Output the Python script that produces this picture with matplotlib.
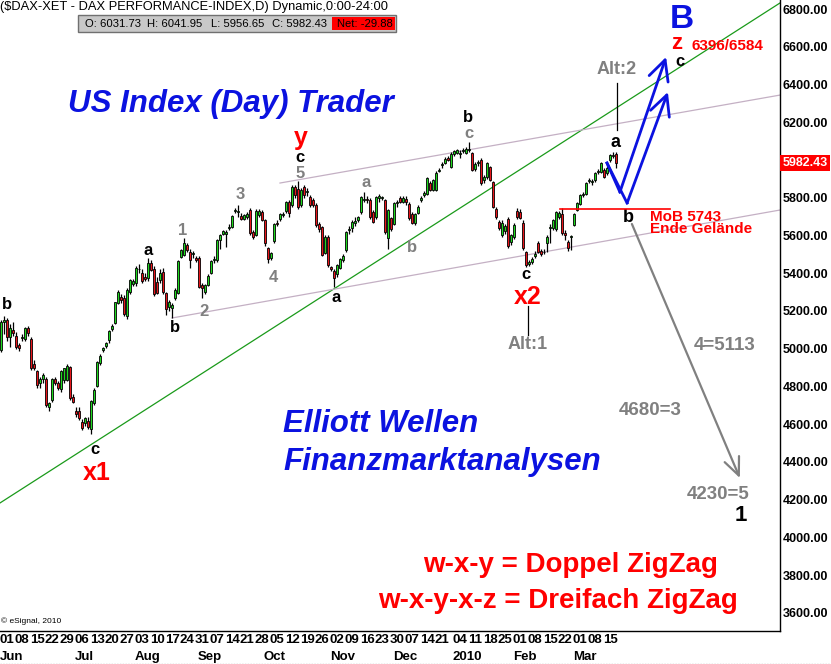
import matplotlib
matplotlib.use("Agg")
import matplotlib.pyplot as plt
import matplotlib.transforms as mtransforms
from matplotlib.lines import Line2D
from matplotlib.patches import Rectangle
import numpy as np

plt.rcParams["font.family"] = ["Liberation Sans", "DejaVu Sans"]

# daily OHLC, DAX 01.06.2009 - 19.03.2010
opens = [
    4995, 5140, 5150, 5060, 5100, 5065, 5020, 5055, 5050, 5110,
    5050, 4920, 4880, 4820, 4840, 4840, 4690, 4730, 4840, 4818,
    4785, 4834, 4836, 4903, 4744, 4670, 4670, 4612, 4607, 4617,
    4575, 4712, 4803, 4925, 4993, 5015, 5046, 5104, 5136, 5242,
    5274, 5269, 5174, 5300, 5345, 5348, 5420, 5401, 5380, 5375,
    5454, 5422, 5354, 5364, 5407, 5295, 5221, 5216, 5269, 5295,
    5486, 5497, 5550, 5513, 5500, 5481, 5481, 5338, 5301, 5338,
    5401, 5470, 5470, 5576, 5608, 5610, 5640, 5645, 5730, 5725,
    5703, 5690, 5700, 5735, 5618, 5603, 5710, 5724, 5682, 5534,
    5481, 5571, 5665, 5687, 5710, 5730, 5778, 5762, 5857, 5846,
    5760, 5857, 5830, 5804, 5790, 5762, 5660, 5645, 5507, 5592,
    5433, 5412, 5396, 5430, 5470, 5523, 5630, 5640, 5665, 5680,
    5724, 5790, 5795, 5788, 5724, 5698, 5800, 5800, 5788, 5587,
    5693, 5661, 5770, 5800, 5780, 5795, 5767, 5714, 5666, 5719,
    5790, 5815, 5820, 5878, 5841, 5841, 5940, 5975, 5984, 6010,
    5963, 6030, 6037, 6030, 6050, 6037, 6055, 6037, 5950, 5985,
    6000, 5895, 5910, 5963, 5883, 5740, 5672, 5603, 5625, 5687,
    5566, 5592, 5730, 5725, 5666, 5513, 5450, 5460, 5490, 5560,
    5520, 5510, 5560, 5640, 5640, 5634, 5700, 5714, 5615, 5566,
    5590, 5656, 5735, 5767, 5815, 5820, 5890, 5885, 5894, 5935,
    5936, 5947, 5930, 6000, 6020, 6031.73,
]
highs = [
    5150, 5175, 5165, 5130, 5140, 5090, 5030, 5080, 5115, 5120,
    5060, 4940, 4890, 4850, 4870, 4850, 4720, 4845, 4850, 4830,
    4885, 4900, 4920, 4910, 4760, 4690, 4690, 4630, 4640, 4640,
    4730, 4790, 4935, 4970, 5010, 5035, 5100, 5130, 5250, 5310,
    5290, 5285, 5320, 5370, 5370, 5440, 5450, 5420, 5400, 5481,
    5470, 5440, 5380, 5420, 5430, 5300, 5260, 5240, 5320, 5470,
    5530, 5585, 5560, 5530, 5520, 5490, 5490, 5350, 5345, 5395,
    5470, 5490, 5580, 5610, 5630, 5630, 5660, 5710, 5745, 5760,
    5720, 5715, 5725, 5745, 5630, 5740, 5740, 5735, 5690, 5540,
    5515, 5665, 5680, 5720, 5725, 5785, 5790, 5865, 5870, 5888,
    5850, 5870, 5850, 5815, 5800, 5770, 5670, 5650, 5600, 5600,
    5440, 5420, 5450, 5480, 5500, 5625, 5650, 5680, 5700, 5705,
    5810, 5830, 5810, 5800, 5735, 5810, 5820, 5810, 5795, 5740,
    5700, 5780, 5790, 5810, 5810, 5810, 5775, 5725, 5720, 5760,
    5810, 5835, 5910, 5890, 5900, 5940, 5960, 5990, 6015, 6020,
    6040, 6055, 6060, 6055, 6065, 6070, 6094, 6045, 5990, 6000,
    6010, 5920, 5990, 5970, 5890, 5750, 5680, 5680, 5660, 5700,
    5610, 5665, 5745, 5740, 5680, 5520, 5470, 5485, 5520, 5570,
    5530, 5530, 5600, 5660, 5690, 5730, 5730, 5745, 5630, 5575,
    5600, 5720, 5775, 5820, 5830, 5882, 5905, 5900, 5935, 5950,
    5990, 5960, 5970, 6030, 6040, 6041.95,
]
lows = [
    4985, 5080, 5040, 5010, 5070, 5000, 4990, 5040, 5040, 5070,
    4890, 4890, 4790, 4790, 4820, 4690, 4670, 4720, 4810, 4780,
    4770, 4820, 4830, 4730, 4710, 4640, 4620, 4570, 4590, 4575,
    4550, 4700, 4795, 4915, 4985, 5005, 5030, 5095, 5130, 5235,
    5240, 5175, 5160, 5290, 5330, 5330, 5400, 5350, 5360, 5360,
    5410, 5280, 5290, 5350, 5290, 5179, 5200, 5163, 5260, 5290,
    5480, 5490, 5515, 5430, 5480, 5460, 5320, 5269, 5290, 5330,
    5395, 5455, 5460, 5530, 5600, 5540, 5630, 5640, 5720, 5700,
    5680, 5680, 5690, 5600, 5580, 5595, 5700, 5675, 5545, 5455,
    5470, 5560, 5650, 5675, 5700, 5720, 5700, 5750, 5800, 5740,
    5750, 5800, 5810, 5750, 5750, 5645, 5620, 5490, 5500, 5435,
    5410, 5327, 5380, 5420, 5460, 5515, 5610, 5620, 5650, 5670,
    5715, 5780, 5770, 5690, 5665, 5690, 5780, 5790, 5610, 5528,
    5625, 5655, 5750, 5770, 5770, 5760, 5680, 5660, 5655, 5715,
    5780, 5805, 5815, 5835, 5835, 5835, 5935, 5955, 5980, 5995,
    5955, 6020, 6030, 6010, 6035, 6030, 6040, 5940, 5940, 5970,
    5870, 5880, 5900, 5890, 5745, 5690, 5630, 5590, 5610, 5535,
    5550, 5580, 5690, 5685, 5525, 5433, 5440, 5450, 5480, 5505,
    5490, 5500, 5510, 5560, 5630, 5625, 5690, 5605, 5575, 5520,
    5525, 5650, 5730, 5760, 5805, 5815, 5880, 5870, 5885, 5925,
    5930, 5905, 5920, 5990, 6010, 5956.65,
]
closes = [
    5140, 5150, 5060, 5110, 5085, 5010, 5005, 5060, 5110, 5085,
    4898, 4900, 4808, 4840, 4860, 4702, 4712, 4840, 4818, 4792,
    4882, 4898, 4909, 4739, 4718, 4655, 4633, 4580, 4633, 4585,
    4723, 4781, 4930, 4962, 5004, 5031, 5094, 5120, 5247, 5300,
    5258, 5184, 5311, 5364, 5360, 5428, 5425, 5359, 5370, 5454,
    5417, 5290, 5295, 5401, 5300, 5211, 5248, 5232, 5311, 5465,
    5523, 5560, 5523, 5470, 5505, 5470, 5327, 5322, 5338, 5385,
    5465, 5475, 5576, 5603, 5624, 5620, 5645, 5703, 5735, 5730,
    5687, 5708, 5715, 5613, 5592, 5730, 5730, 5682, 5560, 5475,
    5507, 5661, 5660, 5714, 5715, 5778, 5719, 5857, 5815, 5751,
    5840, 5815, 5835, 5762, 5762, 5656, 5635, 5497, 5592, 5444,
    5422, 5375, 5444, 5475, 5492, 5618, 5635, 5672, 5675, 5700,
    5804, 5795, 5790, 5698, 5672, 5804, 5810, 5805, 5618, 5735,
    5634, 5772, 5775, 5780, 5800, 5775, 5693, 5666, 5714, 5751,
    5800, 5825, 5905, 5841, 5894, 5931, 5947, 5980, 6005, 6000,
    6032, 6050, 6053, 6035, 6055, 6060, 6060, 5947, 5980, 5990,
    5878, 5910, 5984, 5894, 5751, 5698, 5640, 5666, 5650, 5544,
    5603, 5656, 5700, 5695, 5534, 5444, 5460, 5475, 5500, 5513,
    5500, 5515, 5590, 5645, 5682, 5724, 5720, 5613, 5600, 5534,
    5595, 5714, 5772, 5815, 5820, 5878, 5895, 5890, 5931, 5940,
    5984, 5910, 5960, 6027, 6025, 5982.43,
]

week_labels = ["01", "08", "15", "22", "29", "06", "13", "20", "27",
               "03", "10", "17", "24", "31", "07", "14", "21", "28",
               "05", "12", "19", "26", "02", "09", "16", "23", "30",
               "07", "14", "21", "04", "11", "18", "25", "01", "08",
               "15", "22", "01", "08", "15"]
week_index = [0, 5, 10, 15, 20, 25, 30, 35, 40, 45, 50, 55, 60, 65,
              70, 75, 80, 85, 90, 95, 100, 105, 110, 115, 120, 125, 130,
              135, 140, 145, 151, 156, 161, 166, 171, 176, 181, 186,
              191, 196, 201]
month_labels = ["Jun", "Jul", "Aug", "Sep", "Oct", "Nov", "Dec", "2010", "Feb", "Mar"]
month_index = [0, 25, 45, 66, 88, 110, 131, 151, 171, 191]
# 6000 sits under the last-price tag, so it is not labelled
price_ticks = [p for p in range(3600, 6801, 200) if p != 6000]

W, H = 831, 664
GREEN = "#1fd81f"
RED = "#e8161b"
BLUE = "#0b12e0"
GREY = "#808080"
CHANNEL = "#c4b0c4"


def fpx(x, y):
    """pixel (from top-left) -> figure fraction"""
    return x / W, 1 - y / H


def label(ax, i, p, s, color="black", size=12, **kw):
    ax.text(i, p, s, color=color, fontsize=size, fontweight="bold",
            ha="center", va="center", **kw)


fig = plt.figure(figsize=(W / 100, H / 100), dpi=100)
ax = fig.add_axes([0, 33 / H, 780 / W, 631 / H])
ax.set_xlim(-1 / 3, 259.67)
ax.set_ylim(3504.6, 6847.7)

# candles
idx = np.arange(len(closes))
o = np.array(opens)
c = np.array(closes)
up = c >= o
ax.vlines(idx, lows, highs, color="black", lw=0.9, zorder=2)
body = np.maximum(np.abs(c - o), 4)
ax.bar(idx, body, bottom=np.minimum(o, c), width=0.95,
       color=np.where(up, GREEN, RED), edgecolor="black", linewidth=0.6, zorder=3)

# trend / channel lines
ax.plot([-0.33, 259.67], [4183, 6832], color="#1a9a1a", lw=0.9, zorder=1)
ax.plot([93, 259.67], [5878, 6344], color=CHANNEL, lw=0.9, zorder=1)
ax.plot([57, 259.67], [5163, 5735], color=CHANNEL, lw=0.9, zorder=1)
ax.plot([186.3, 223], [5743, 5743], color="red", lw=1.2, zorder=4)

# projected path
ax.plot([202, 206.3], [5984, 5830], color=BLUE, lw=2.0, zorder=5)
ax.plot([202, 208.7], [5984, 5772], color=BLUE, lw=2.0, zorder=5)
arrow_kw = dict(arrowstyle="->,head_length=0.8,head_width=0.4", lw=2.0,
                color=BLUE, mutation_scale=18, shrinkA=0, shrinkB=0)
ax.annotate("", xy=(221.7, 6546), xytext=(206.3, 5830), arrowprops=arrow_kw, zorder=5)
ax.annotate("", xy=(222.3, 6360), xytext=(208.7, 5772), arrowprops=arrow_kw, zorder=5)
ax.annotate("", xy=(246.3, 4315), xytext=(210.3, 5661),
            arrowprops=dict(arrowstyle="->,head_length=0.8,head_width=0.35", lw=1.6,
                            color=GREY, mutation_scale=16, shrinkA=0, shrinkB=0))

ax.plot([205.3, 205.3], [6408, 6159], color="black", lw=0.9)
ax.plot([175.7, 175.7], [5226, 5073], color="black", lw=0.9)

# wave labels
label(ax, 2, 5232, "b")
label(ax, 31.3, 4464, "c")
label(ax, 32, 4340, "x1", color="red", size=18)
label(ax, 49, 5523, "a")
label(ax, 58, 5115, "b")
label(ax, 60.7, 5629, "1", color=GREY)
label(ax, 67.7, 5195, "2", color=GREY)
label(ax, 79.7, 5815, "3", color=GREY)
label(ax, 90.7, 5375, "4", color=GREY)
label(ax, 100, 6115, "y", color="red", size=18)
label(ax, 99.7, 6011, "c")
label(ax, 99.7, 5931, "5", color=GREY)
label(ax, 111.7, 5269, "a")
label(ax, 121.7, 5883, "a", color=GREY)
label(ax, 137, 5534, "b", color=GREY)
label(ax, 155.7, 6223, "b")
label(ax, 156, 6138, "c", color=GREY)
label(ax, 175, 5391, "c")
label(ax, 175.7, 5272, "x2", color="red", size=18)
label(ax, 175.7, 5020, "Alt:1", color=GREY, size=13)
label(ax, 205, 6095, "a", size=13)
label(ax, 205.3, 6477, "Alt:2", color=GREY, size=13)
label(ax, 227, 6745, "B", color=BLUE, size=24)
label(ax, 225.3, 6615, "z", color="red", size=16)
label(ax, 242.3, 6604, "6396/6584", color="red", size=11)
label(ax, 226.3, 6522, "c", size=12)
label(ax, 209, 5693, "b", size=13)
ax.text(216.3, 5700, "MoB 5743", color="red", fontsize=11, fontweight="bold", va="center")
ax.text(216.3, 5632, "Ende Gelände", color="red", fontsize=11, fontweight="bold", va="center")
label(ax, 241.3, 5015, "4=5113", color=GREY, size=13.5)
label(ax, 216.3, 4675, "4680=3", color=GREY, size=13.5)
label(ax, 239, 4230, "4230=5", color=GREY, size=13.5)
label(ax, 246.7, 4115, "1", size=16)

# axes styling
for side in ("top", "left"):
    ax.spines[side].set_visible(False)
ax.spines["right"].set_linewidth(1.0)
ax.spines["bottom"].set_linewidth(1.0)
ax.yaxis.tick_right()
ax.set_yticks(price_ticks)
ax.set_yticklabels([f"{p:.2f}" for p in price_ticks])
ax.tick_params(axis="y", length=0, pad=2, labelsize=9)
for t in ax.get_yticklabels():
    t.set_fontweight("bold")
ax.set_xticks([])

tag = mtransforms.blended_transform_factory(ax.transAxes, ax.transData)
ax.text(1.003, closes[-1], f"{closes[-1]:.2f}", transform=tag, color="white",
        fontsize=9, fontweight="bold", va="center", ha="left",
        bbox=dict(fc="#ff0000", ec="none", pad=1.5))

xt = ax.get_xaxis_transform()
for i, s in zip(week_index, week_labels):
    ax.text(i - 0.4, -0.0143, s, transform=xt, fontsize=9.5, fontweight="bold",
            ha="left", va="center", clip_on=False)
for i, s in zip(month_index, month_labels):
    ax.text(i - 0.4, -0.041, s, transform=xt, fontsize=9.5, fontweight="bold",
            ha="left", va="center", clip_on=False)

# header
fig.text(*fpx(0, 7), "($DAX-XET - DAX PERFORMANCE-INDEX,D) Dynamic,0:00-24:00",
         fontsize=9.3, ha="left", va="center")
fig.patches.append(Rectangle(fpx(78, 32), 318 / W, 17 / H, transform=fig.transFigure,
                             fc="#c8c8c8", ec="#707070", lw=1.0))
fig.patches.append(Rectangle(fpx(332, 30), 63 / W, 13 / H, transform=fig.transFigure,
                             fc="#ff0000", ec="none"))
for x, s in [(85, "O: 6031.73"), (147, "H: 6041.95"), (211, "L: 5956.65"),
             (272, "C: 5982.43"), (337, "Net: -29.88")]:
    fig.text(*fpx(x, 24), s, fontsize=8.1, ha="left", va="center")

# headline texts
for y, s in [(104, "US Index (Day) Trader"), (424, "Elliott Wellen"),
             (462, "Finanzmarktanalysen")]:
    x = 68 if y == 104 else 283
    fig.text(*fpx(x, y), s, color=BLUE, fontsize=22.5, fontweight="bold",
             fontstyle="italic", va="center")
fig.text(*fpx(571, 565), "w-x-y = Doppel ZigZag", color="red", fontsize=20,
         fontweight="bold", ha="center", va="center")
fig.text(*fpx(558, 601), "w-x-y-x-z = Dreifach ZigZag", color="red", fontsize=20,
         fontweight="bold", ha="center", va="center")
fig.text(*fpx(1, 621), "© eSignal, 2010", fontsize=6, va="center")
fig.lines.append(Line2D([0, 1], [0.5 / H, 0.5 / H], transform=fig.transFigure,
                        color="#b0b0b0", lw=1, ls=(0, (1, 1))))

fig.savefig("out.png", dpi=100)
